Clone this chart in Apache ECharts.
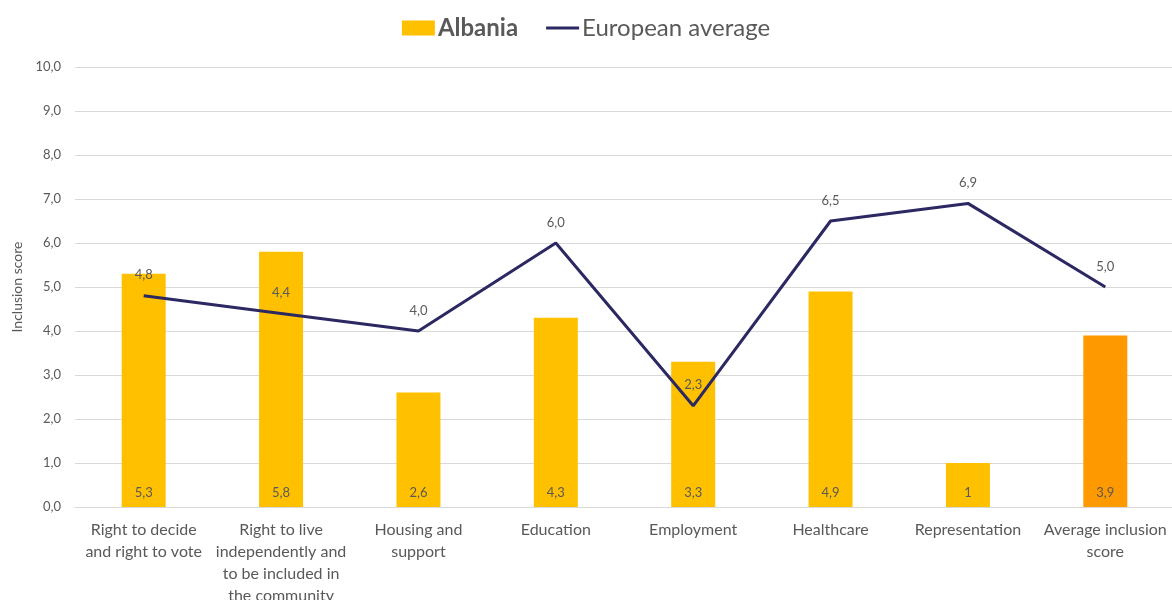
<!DOCTYPE html>
<html><head><meta charset="utf-8">
<script src="https://cdn.jsdelivr.net/npm/echarts@6/dist/echarts.min.js"></script>
<style>html,body{margin:0;padding:0;background:#fff}#c{width:1172px;height:600px}</style>
</head><body><div id="c"></div>
<script>
const categories = ["Right to decide\nand right to vote","Right to live\nindependently and\nto be included in\nthe community","Housing and\nsupport","Education","Employment","Healthcare","Representation","Average inclusion\nscore"];
const albania = [5.3, 5.8, 2.6, 4.3, 3.3, 4.9, 1, 3.9];
const europeanAverage = [4.8, 4.4, 4.0, 6.0, 2.3, 6.5, 6.9, 5.0];
const yTicks = {min: 0, max: 10, interval: 1};

const font = 'Lato, "Open Sans", sans-serif';
const grey = '#595959';
const chart = echarts.init(document.getElementById('c'), null, {renderer: 'canvas'});
chart.setOption({
  animation: false,
  textStyle: {fontFamily: font},
  legend: {
    top: 11, left: 'center', itemGap: 28, itemWidth: 33, itemHeight: 15,
    textStyle: {fontSize: 24, color: grey, fontFamily: font, padding: [0, 0, 0, -2]},
    data: [
      {name: 'Albania', icon: 'rect', textStyle: {fontWeight: 'bold'}},
      {name: 'European average', icon: 'path://M0,6 L33,6 L33,9 L0,9 Z M0,0 L0.01,0 L0.01,0.01 Z M0,15 L0.01,15 L0.01,14.99 Z', itemStyle: {color: '#2B2862'}}
    ]
  },
  grid: {left: 75, right: -2, top: 67, bottom: 93, containLabel: false, outerBoundsMode: 'none'},
  xAxis: {
    type: 'category', data: categories,
    axisLine: {lineStyle: {color: '#d9d9d9'}},
    axisTick: {show: false},
    axisLabel: {interval: 0, color: grey, fontSize: 16, lineHeight: 22, margin: 12, fontFamily: font}
  },
  yAxis: {
    type: 'value', min: yTicks.min, max: yTicks.max, interval: yTicks.interval,
    name: 'Inclusion score', nameLocation: 'middle', nameGap: 50, nameRotate: 90,
    nameTextStyle: {color: grey, fontSize: 14, fontFamily: font},
    axisLine: {show: false}, axisTick: {show: false},
    axisLabel: {color: grey, fontSize: 13, margin: 14, formatter: v => v.toFixed(1).replace('.', ',')},
    splitLine: {lineStyle: {color: '#d9d9d9'}}
  },
  series: [
    {
      name: 'Albania', type: 'bar', barWidth: 44,
      itemStyle: {color: '#FFC000'},
      data: albania.map((v, i) => i === albania.length - 1 ? {value: v, itemStyle: {color: '#FF9900'}} : v),
      label: {show: true, position: 'insideBottom', distance: 8, color: grey, fontSize: 13,
        formatter: p => String(p.value).replace('.', ',')}
    },
    {
      name: 'European average', type: 'line', data: europeanAverage,
      symbol: 'circle', symbolSize: 0.1, showSymbol: true,
      lineStyle: {color: '#2B2862', width: 3}, itemStyle: {color: '#2B2862'},
      label: {show: true, position: 'top', distance: 14, color: grey, fontSize: 13,
        formatter: p => p.value.toFixed(1).replace('.', ',')},
      z: 3
    }
  ]
});
</script></body></html>
